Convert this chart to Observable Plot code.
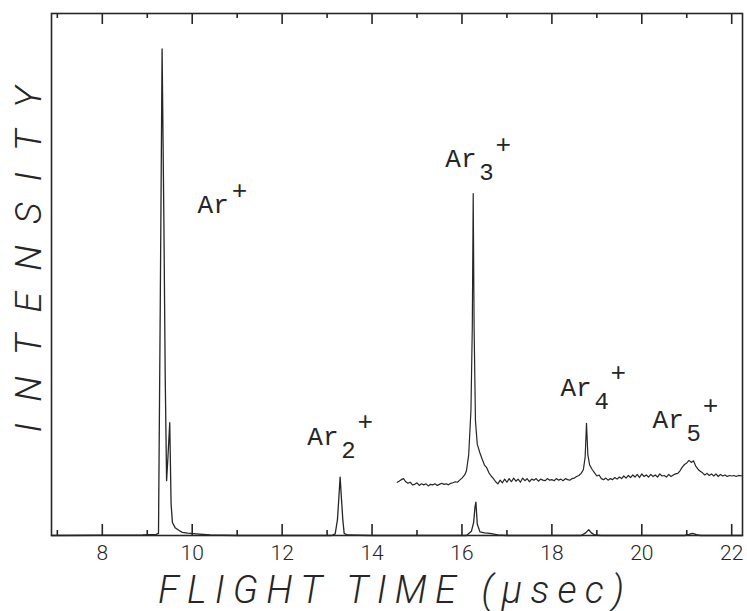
<!DOCTYPE html>
<html>
<head>
<meta charset="utf-8">
<script src="https://cdn.jsdelivr.net/npm/d3@7"></script>
<script src="https://cdn.jsdelivr.net/npm/@observablehq/plot@0.6"></script>
<style>
  html, body { margin: 0; padding: 0; background: #fff; }
</style>
</head>
<body>
<div id="chart"></div>
<script>
// ---- data ----
const mainTime = [6.87, 8.9, 9.2, 9.25, 9.29, 9.33, 9.37, 9.40, 9.43, 9.46, 9.50, 9.53, 9.56, 9.62, 9.70, 9.78, 9.9, 10.1, 10.4, 11.0,
  13.1, 13.18, 13.23, 13.26, 13.29, 13.32, 13.35, 13.38, 13.45, 14.0,
  16.1, 16.21, 16.26, 16.29, 16.31, 16.34, 16.40, 16.50, 16.62, 16.8, 17.0,
  18.65, 18.75, 18.82, 18.88, 18.95, 19.1,
  20.95, 21.05, 21.13, 21.22, 21.3, 22.24];
const mainIntensity = [0, 0.1, 0.2, 0.4, 45, 93.2, 60, 30, 10.5, 15, 21.6, 6, 2.5, 1.5, 1.0, 0.6, 0.45, 0.3, 0.1, 0,
  0, 0.3, 3, 7, 11.2, 7, 3, 0.4, 0.1, 0,
  0, 0.8, 2.5, 5.5, 6.4, 2.2, 0.7, 0.5, 0.4, 0.1, 0,
  0, 0.5, 1.1, 0.5, 0.1, 0,
  0, 0.2, 0.4, 0.15, 0, 0];

const zoomTime = [14.56, 14.60, 14.65, 14.70, 14.75, 14.80, 14.85, 14.90, 14.95, 15.00, 15.05, 15.10, 15.15, 15.20, 15.25, 15.30,
  15.35, 15.40, 15.45, 15.50, 15.55, 15.60, 15.65, 15.70, 15.75, 15.80, 15.85, 15.90, 15.95, 16.00, 16.06, 16.10, 16.15,
  16.20, 16.23, 16.25, 16.27, 16.30, 16.34, 16.40, 16.45, 16.50, 16.55, 16.60, 16.65, 16.70, 16.75, 16.80, 16.85, 16.90,
  16.95, 17.00, 17.05, 17.10, 17.15, 17.20, 17.25, 17.30, 17.35, 17.40, 17.45, 17.50, 17.55, 17.60, 17.65, 17.70, 17.75,
  17.80, 17.85, 17.90, 17.95, 18.00, 18.05, 18.10, 18.15, 18.20, 18.25, 18.30, 18.35, 18.40, 18.45, 18.50, 18.55, 18.60,
  18.65, 18.70, 18.74, 18.77, 18.80, 18.84, 18.90, 18.95, 19.00, 19.05, 19.10, 19.15, 19.20, 19.25, 19.30, 19.35, 19.40,
  19.45, 19.50, 19.55, 19.60, 19.65, 19.70, 19.75, 19.80, 19.85, 19.90, 19.95, 20.00, 20.05, 20.10, 20.15, 20.20, 20.25,
  20.30, 20.35, 20.40, 20.45, 20.50, 20.55, 20.60, 20.65, 20.70, 20.75, 20.80, 20.85, 20.90, 20.95, 21.00, 21.05, 21.10,
  21.15, 21.20, 21.25, 21.30, 21.35, 21.40, 21.45, 21.50, 21.55, 21.60, 21.65, 21.70, 21.75, 21.80, 21.85, 21.90, 21.95,
  22.00, 22.05, 22.10, 22.15, 22.24];
const zoomIntensity = [10.2, 10.4, 10.7, 10.9, 10.3, 10.0, 10.2, 9.7, 9.8, 10.1, 9.6, 9.9, 9.7, 9.9, 9.5, 9.8,
  9.7, 9.9, 9.6, 9.8, 10.0, 9.8, 9.9, 9.7, 10.0, 10.1, 10.3, 10.2, 10.6, 11.0, 11.6, 12.4, 15.5,
  24, 40, 65.5, 40, 22, 17.5, 15.8, 14.6, 13.5, 13.0, 12.0, 11.4, 10.9, 10.3, 9.9, 10.6, 10.1,
  10.8, 10.2, 10.9, 10.3, 11.0, 10.4, 10.8, 10.2, 11.0, 10.5, 10.9, 10.3, 10.8, 10.6, 10.9, 10.4, 10.8,
  10.6, 10.5, 10.9, 10.6, 10.7, 10.5, 10.9, 10.6, 10.8, 10.5, 10.9, 10.7, 10.6, 10.9, 11.0, 11.3, 11.5,
  11.9, 12.6, 15.0, 21.5, 15.5, 13.5, 12.6, 12.0, 11.4, 11.6, 10.9, 10.7, 11.0, 10.6, 10.9, 10.7, 11.1,
  10.8, 11.2, 10.9, 11.4, 11.0, 11.5, 11.1, 11.6, 11.2, 11.7, 11.1, 11.8, 11.3, 11.6, 11.2, 11.7, 11.3,
  11.6, 11.2, 11.8, 11.4, 11.5, 11.2, 11.7, 11.3, 11.6, 11.8, 11.9, 12.4, 13.1, 13.6, 13.9, 14.4, 14.0,
  14.3, 13.3, 12.7, 12.3, 12.0, 11.6, 11.9, 11.5, 11.8, 11.4, 11.8, 11.3, 11.7, 11.4, 11.6, 11.3, 11.5,
  11.4, 11.5, 11.3, 11.5, 11.4];

const majorTicks = [8, 10, 12, 14, 16, 18, 20, 22];
const minorTicks = [7, 9, 11, 13, 15, 17, 19, 21];

const labelNames = ["Ar", "Ar", "Ar", "Ar", "Ar"];
const labelSubs = ["", "2", "3", "4", "5"];
const labelTime = [10.12, 12.56, 15.63, 18.19, 20.24];
const labelLevel = [61.7, 17.4, 70.5, 26.8, 20.5];

const xTitle = "FLIGHT TIME (μsec)";
const yTitle = "INTENSITY";

// ---- build tables ----
const mainData = mainTime.map((t, i) => ({t, v: mainIntensity[i]}));
const zoomData = zoomTime.map((t, i) => ({t, v: zoomIntensity[i]}));
const labels = labelNames.map((n, i) => ({name: n, sub: labelSubs[i], t: labelTime[i], v: labelLevel[i]}));
const plainLabels = labels.filter(d => !d.sub);
const subLabels = labels.filter(d => d.sub);

const W = 747, H = 611;
const mT = 13, mB = 76, mL = 51, mR = 5;
const plotH = H - mT - mB;
const ink = "#262626";
const plotFont = "Roboto, 'Liberation Sans', sans-serif";
const monoFont = "'Courier New', Courier, 'Nimbus Mono PS', FreeMono, 'Liberation Mono', monospace";

const chart = Plot.plot({
  width: W,
  height: H,
  marginTop: mT,
  marginBottom: mB,
  marginLeft: mL,
  marginRight: mR,
  style: {background: "#fff", color: ink},
  x: {domain: [6.87, 22.24]},
  y: {domain: [0, 100], axis: null},
  marks: [
    Plot.ruleX(majorTicks, {x: d => d, insetTop: plotH - 11, stroke: ink, strokeWidth: 1.6}),
    Plot.ruleX(minorTicks, {x: d => d, insetTop: plotH - 5, stroke: ink, strokeWidth: 1.6}),
    Plot.ruleX(majorTicks, {x: d => d, insetBottom: plotH - 11, stroke: ink, strokeWidth: 1.6}),
    Plot.ruleX(minorTicks, {x: d => d, insetBottom: plotH - 5, stroke: ink, strokeWidth: 1.6}),
    Plot.line(mainData, {x: "t", y: "v", stroke: ink, strokeWidth: 1.3}),
    Plot.line(zoomData, {x: "t", y: "v", stroke: ink, strokeWidth: 1.2}),
    Plot.frame({stroke: ink, strokeWidth: 1.6}),
    Plot.axisX({ticks: majorTicks, tickSize: 0, tickPadding: 10, tickFormat: d => String(d),
      fontSize: 21, fontFamily: plotFont, fontWeight: 300, label: null, fill: ink}),
    // peak labels: "Ar", subscript n, superscript +
    Plot.text(labels, {x: "t", y: "v", text: "name", textAnchor: "start", lineAnchor: "bottom",
      fontSize: 26, fontFamily: monoFont, fill: ink}),
    Plot.text(subLabels, {x: "t", y: "v", text: "sub", textAnchor: "start", lineAnchor: "bottom",
      dx: 34, dy: 13, fontSize: 24, fontFamily: monoFont, fill: ink}),
    Plot.text(subLabels, {x: "t", y: "v", text: d => "+", textAnchor: "middle", lineAnchor: "middle",
      dx: 58, dy: -23, fontSize: 26, fontFamily: monoFont, fill: ink}),
    Plot.text(plainLabels, {x: "t", y: "v", text: d => "+", textAnchor: "middle", lineAnchor: "middle",
      dx: 42, dy: -23, fontSize: 26, fontFamily: monoFont, fill: ink}),
    // axis titles
    Plot.text([xTitle], {frameAnchor: "bottom", text: d => d, lineAnchor: "bottom", dx: -6, dy: 67,
      fontSize: 38, fontFamily: plotFont, fontWeight: 300, fontStyle: "italic", fill: ink}),
    Plot.text([yTitle], {frameAnchor: "left", text: d => d, rotate: -90, textAnchor: "middle", lineAnchor: "bottom",
      dx: -11, dy: -15, fontSize: 37, fontFamily: plotFont, fontWeight: 300, fontStyle: "italic", fill: ink})
  ]
});

// spread the plotter-style titles to the reference widths
d3.select(chart).selectAll("text").each(function() {
  if (this.textContent === xTitle) d3.select(this).attr("textLength", 466).attr("lengthAdjust", "spacing");
  if (this.textContent === yTitle) d3.select(this).attr("textLength", 346).attr("lengthAdjust", "spacing");
});

document.getElementById("chart").appendChild(chart);
</script>
</body>
</html>
